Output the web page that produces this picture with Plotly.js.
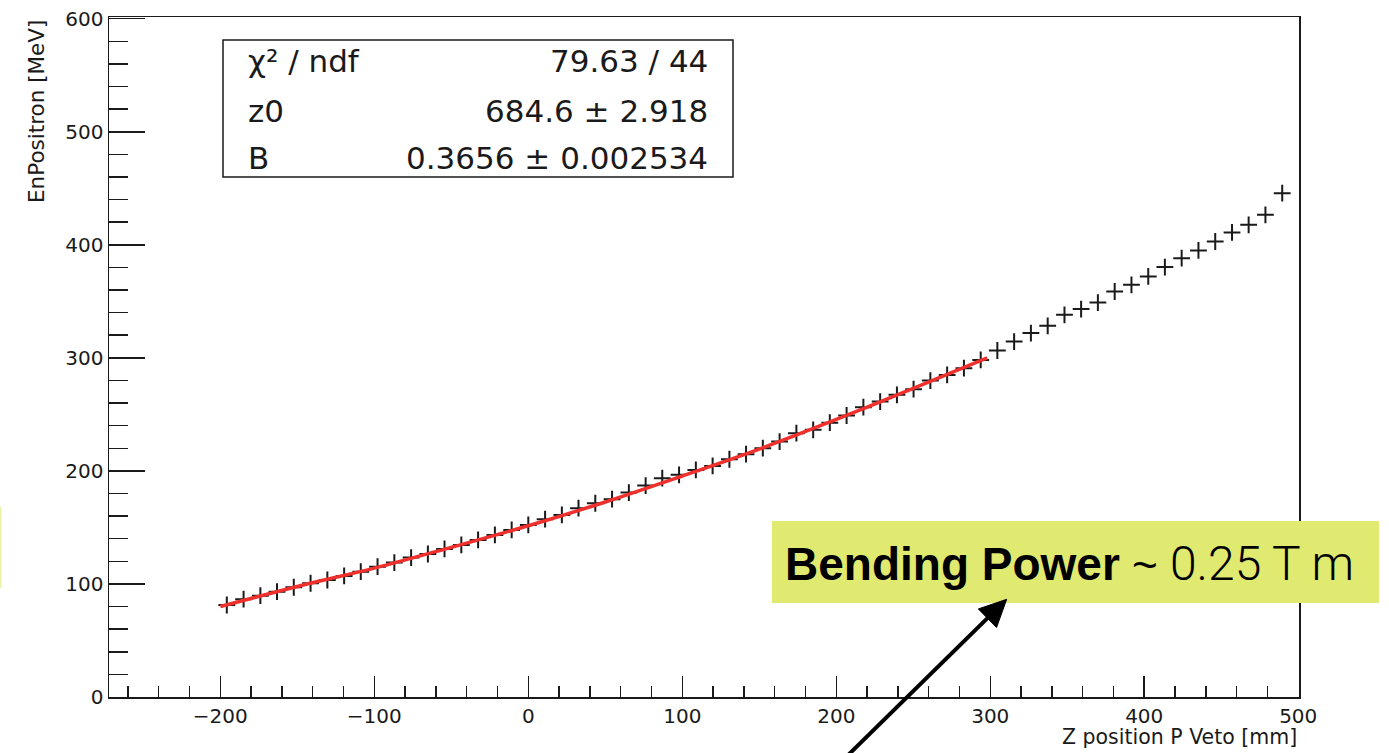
<!DOCTYPE html>
<html>
<head>
<meta charset="utf-8">
<script src="https://cdn.plot.ly/plotly-3.0.1.min.js"></script>
<style>
  html, body { margin: 0; padding: 0; background: #ffffff; }
  #chart { width: 1389px; height: 753px; }
</style>
</head>
<body>
<div id="chart"></div>
<script>
// ---- data ----
const zPosition = [
  -195.8, -184.9, -174.0, -163.2, -152.3, -141.4, -130.5, -119.6, -108.8, -97.9,
  -87.0, -76.1, -65.2, -54.4, -43.5, -32.6, -21.7, -10.8, 0.0, 10.9,
  21.8, 32.6, 43.5, 54.4, 65.3, 76.2, 87.0, 97.9, 108.8, 119.7,
  130.6, 141.4, 152.3, 163.2, 174.1, 185.0, 195.8, 206.7, 217.6, 228.5,
  239.4, 250.2, 261.1, 272.0, 282.9, 293.8, 304.6, 315.5, 326.4, 337.3,
  348.2, 359.0, 369.9, 380.8, 391.7, 402.6, 413.4, 424.3, 435.2, 446.1,
  457.0, 467.8, 478.7, 489.6
];
const enPositron = [
  81.4, 86.5, 89.6, 93.2, 97.1, 100.6, 103.5, 107.1, 110.9, 115.3,
  118.9, 123.3, 126.5, 131.0, 134.5, 138.9, 143.4, 147.8, 152.2, 157.3,
  161.1, 167.0, 171.4, 175.0, 180.8, 187.0, 193.6, 196.5, 200.9, 204.4,
  210.3, 214.8, 220.1, 225.9, 233.4, 236.3, 242.7, 249.0, 256.4, 261.3,
  267.3, 272.3, 279.9, 284.9, 290.9, 298.2, 306.5, 314.4, 321.9, 328.3,
  338.1, 343.1, 348.9, 358.7, 364.6, 372.0, 380.3, 388.2, 395.0, 402.9,
  410.9, 417.7, 426.5, 445.7
];
// fit curve, sampled off the red line in the picture
const fitZ = [-200, -150, -100, -50, 0, 50, 100, 150, 200, 250, 298];
const fitE = [80.0, 97.8, 114.0, 132.4, 151.5, 172.5, 195.5, 219.3, 245.5, 273.0, 300.0];

const statLabels = ["\u03c7\u00b2 / ndf", "z0", "B"];
const statValues = ["79.63 / 44", "684.6 \u00b1 2.918", "0.3656 \u00b1 0.002534"];

const xTitle = "Z position P Veto [mm]";
const yTitle = "EnPositron [MeV]";
const calloutBold = "Bending Power";
const calloutTilde = "\u00a0~\u00a0";
const calloutRest = "0.25 T m";

// ---- geometry helpers (pixel -> paper) ----
const W = 1389, H = 753;
const M = { l: 109, r: 90, t: 17, b: 56 };
const PW = W - M.l - M.r, PH = H - M.t - M.b;
const px = v => (v - M.l) / PW;
const py = v => (H - M.b - v) / PH;

const FONT = "DejaVu Sans, Liberation Sans, Arial, sans-serif";
const INK = "#1a1a1a";

const traces = [
  {
    type: "scatter", mode: "markers",
    x: zPosition, y: enPositron,
    marker: { symbol: "cross-thin", size: 12, color: INK, line: { color: INK, width: 2 } },
    hoverinfo: "x+y", showlegend: false
  },
  {
    type: "scatter", mode: "lines",
    x: fitZ, y: fitE,
    line: { color: "#f0302c", width: 3.5, shape: "spline", smoothing: 1 },
    hoverinfo: "skip", showlegend: false
  }
];

const annotations = [];
// stats box text
const rowsY = [60.5, 110.7, 158.3];
statLabels.forEach((t, i) => {
  annotations.push({ xref: "paper", yref: "paper", x: px(246), y: py(rowsY[i]),
    xanchor: "left", yanchor: "middle", showarrow: false, text: t,
    font: { family: FONT, size: 31, color: INK } });
  annotations.push({ xref: "paper", yref: "paper", x: px(710), y: py(rowsY[i]),
    xanchor: "right", yanchor: "middle", showarrow: false, text: statValues[i],
    font: { family: FONT, size: 31, color: INK } });
});
// axis titles (ROOT style, aligned to axis ends)
annotations.push({ xref: "paper", yref: "paper", x: px(1298.5), y: py(737),
  xanchor: "right", yanchor: "middle", showarrow: false, text: xTitle,
  font: { family: FONT, size: 20.5, color: INK } });
annotations.push({ xref: "paper", yref: "paper", x: px(36.5), y: py(18),
  xanchor: "center", yanchor: "top", showarrow: false, text: yTitle, textangle: -90,
  font: { family: FONT, size: 21.5, color: INK } });
// callout text
annotations.push({ xref: "paper", yref: "paper", x: px(783), y: py(563),
  xanchor: "left", yanchor: "middle", showarrow: false,
  text: "<b>" + calloutBold + "</b><span style=\"font-size:44px\">" + calloutTilde +
        "</span><span style=\"font-family:Roboto, Liberation Sans;font-weight:300;font-size:48px\">" + calloutRest + "</span>",
  font: { family: "Liberation Sans, Arial, sans-serif", size: 46, color: "#000000" } });

// arrow (shaft + head) drawn as shapes in paper space
const tip = [1006.7, 599.3], tail = [838, 765];
const dx = tip[0] - tail[0], dy = tip[1] - tail[1];
const len = Math.hypot(dx, dy), ux = dx / len, uy = dy / len;
const headL = 27, headW = 13;
const bx = tip[0] - headL * ux, by = tip[1] - headL * uy;
const nx = -uy, ny = ux;
const headPath = "M" + px(tip[0]) + "," + py(tip[1]) +
  " L" + px(bx + headW * nx) + "," + py(by + headW * ny) +
  " L" + px(bx - headW * nx) + "," + py(by - headW * ny) + " Z";

const shapes = [
  { type: "rect", xref: "paper", yref: "paper", x0: px(223), x1: px(733), y0: py(177), y1: py(40),
    line: { color: INK, width: 1.5 }, fillcolor: "rgba(255,255,255,1)", layer: "above" },
  { type: "rect", xref: "paper", yref: "paper", x0: px(772), x1: px(1379), y0: py(603), y1: py(521),
    line: { width: 0 }, fillcolor: "#e0e970", layer: "above" },
  { type: "rect", xref: "paper", yref: "paper", x0: px(0), x1: px(1.5), y0: py(588), y1: py(507),
    line: { width: 0 }, fillcolor: "rgba(224,233,112,0.6)", layer: "above" },
  { type: "line", xref: "paper", yref: "paper", x0: px(tail[0]), y0: py(tail[1]),
    x1: px(bx + 4 * ux), y1: py(by + 4 * uy), line: { color: "#000000", width: 4 }, layer: "above" },
  { type: "path", xref: "paper", yref: "paper", path: headPath,
    fillcolor: "#000000", line: { color: "#000000", width: 1 }, layer: "above" }
];

const axisCommon = {
  showgrid: false, zeroline: false, showline: true, mirror: true,
  linecolor: INK, linewidth: 1.5, ticks: "inside", tickcolor: INK, tickwidth: 1.5,
  tickfont: { family: FONT, size: 20, color: INK }
};

const layout = {
  width: W, height: H,
  margin: M,
  paper_bgcolor: "#ffffff", plot_bgcolor: "#ffffff",
  showlegend: false,
  xaxis: Object.assign({}, axisCommon, {
    range: [-272.3, 500.5], tick0: 0, dtick: 100, ticklen: 21,
    minor: { dtick: 20, tick0: 0, ticks: "inside", ticklen: 11, tickcolor: INK, tickwidth: 1.5, showgrid: false }
  }),
  yaxis: Object.assign({}, axisCommon, {
    range: [0, 601.5], tick0: 0, dtick: 100, ticklen: 36,
    minor: { dtick: 20, tick0: 0, ticks: "inside", ticklen: 19, tickcolor: INK, tickwidth: 1.5, showgrid: false }
  }),
  shapes: shapes,
  annotations: annotations
};

Plotly.newPlot("chart", traces, layout, { displayModeBar: false, staticPlot: true });
</script>
</body>
</html>
